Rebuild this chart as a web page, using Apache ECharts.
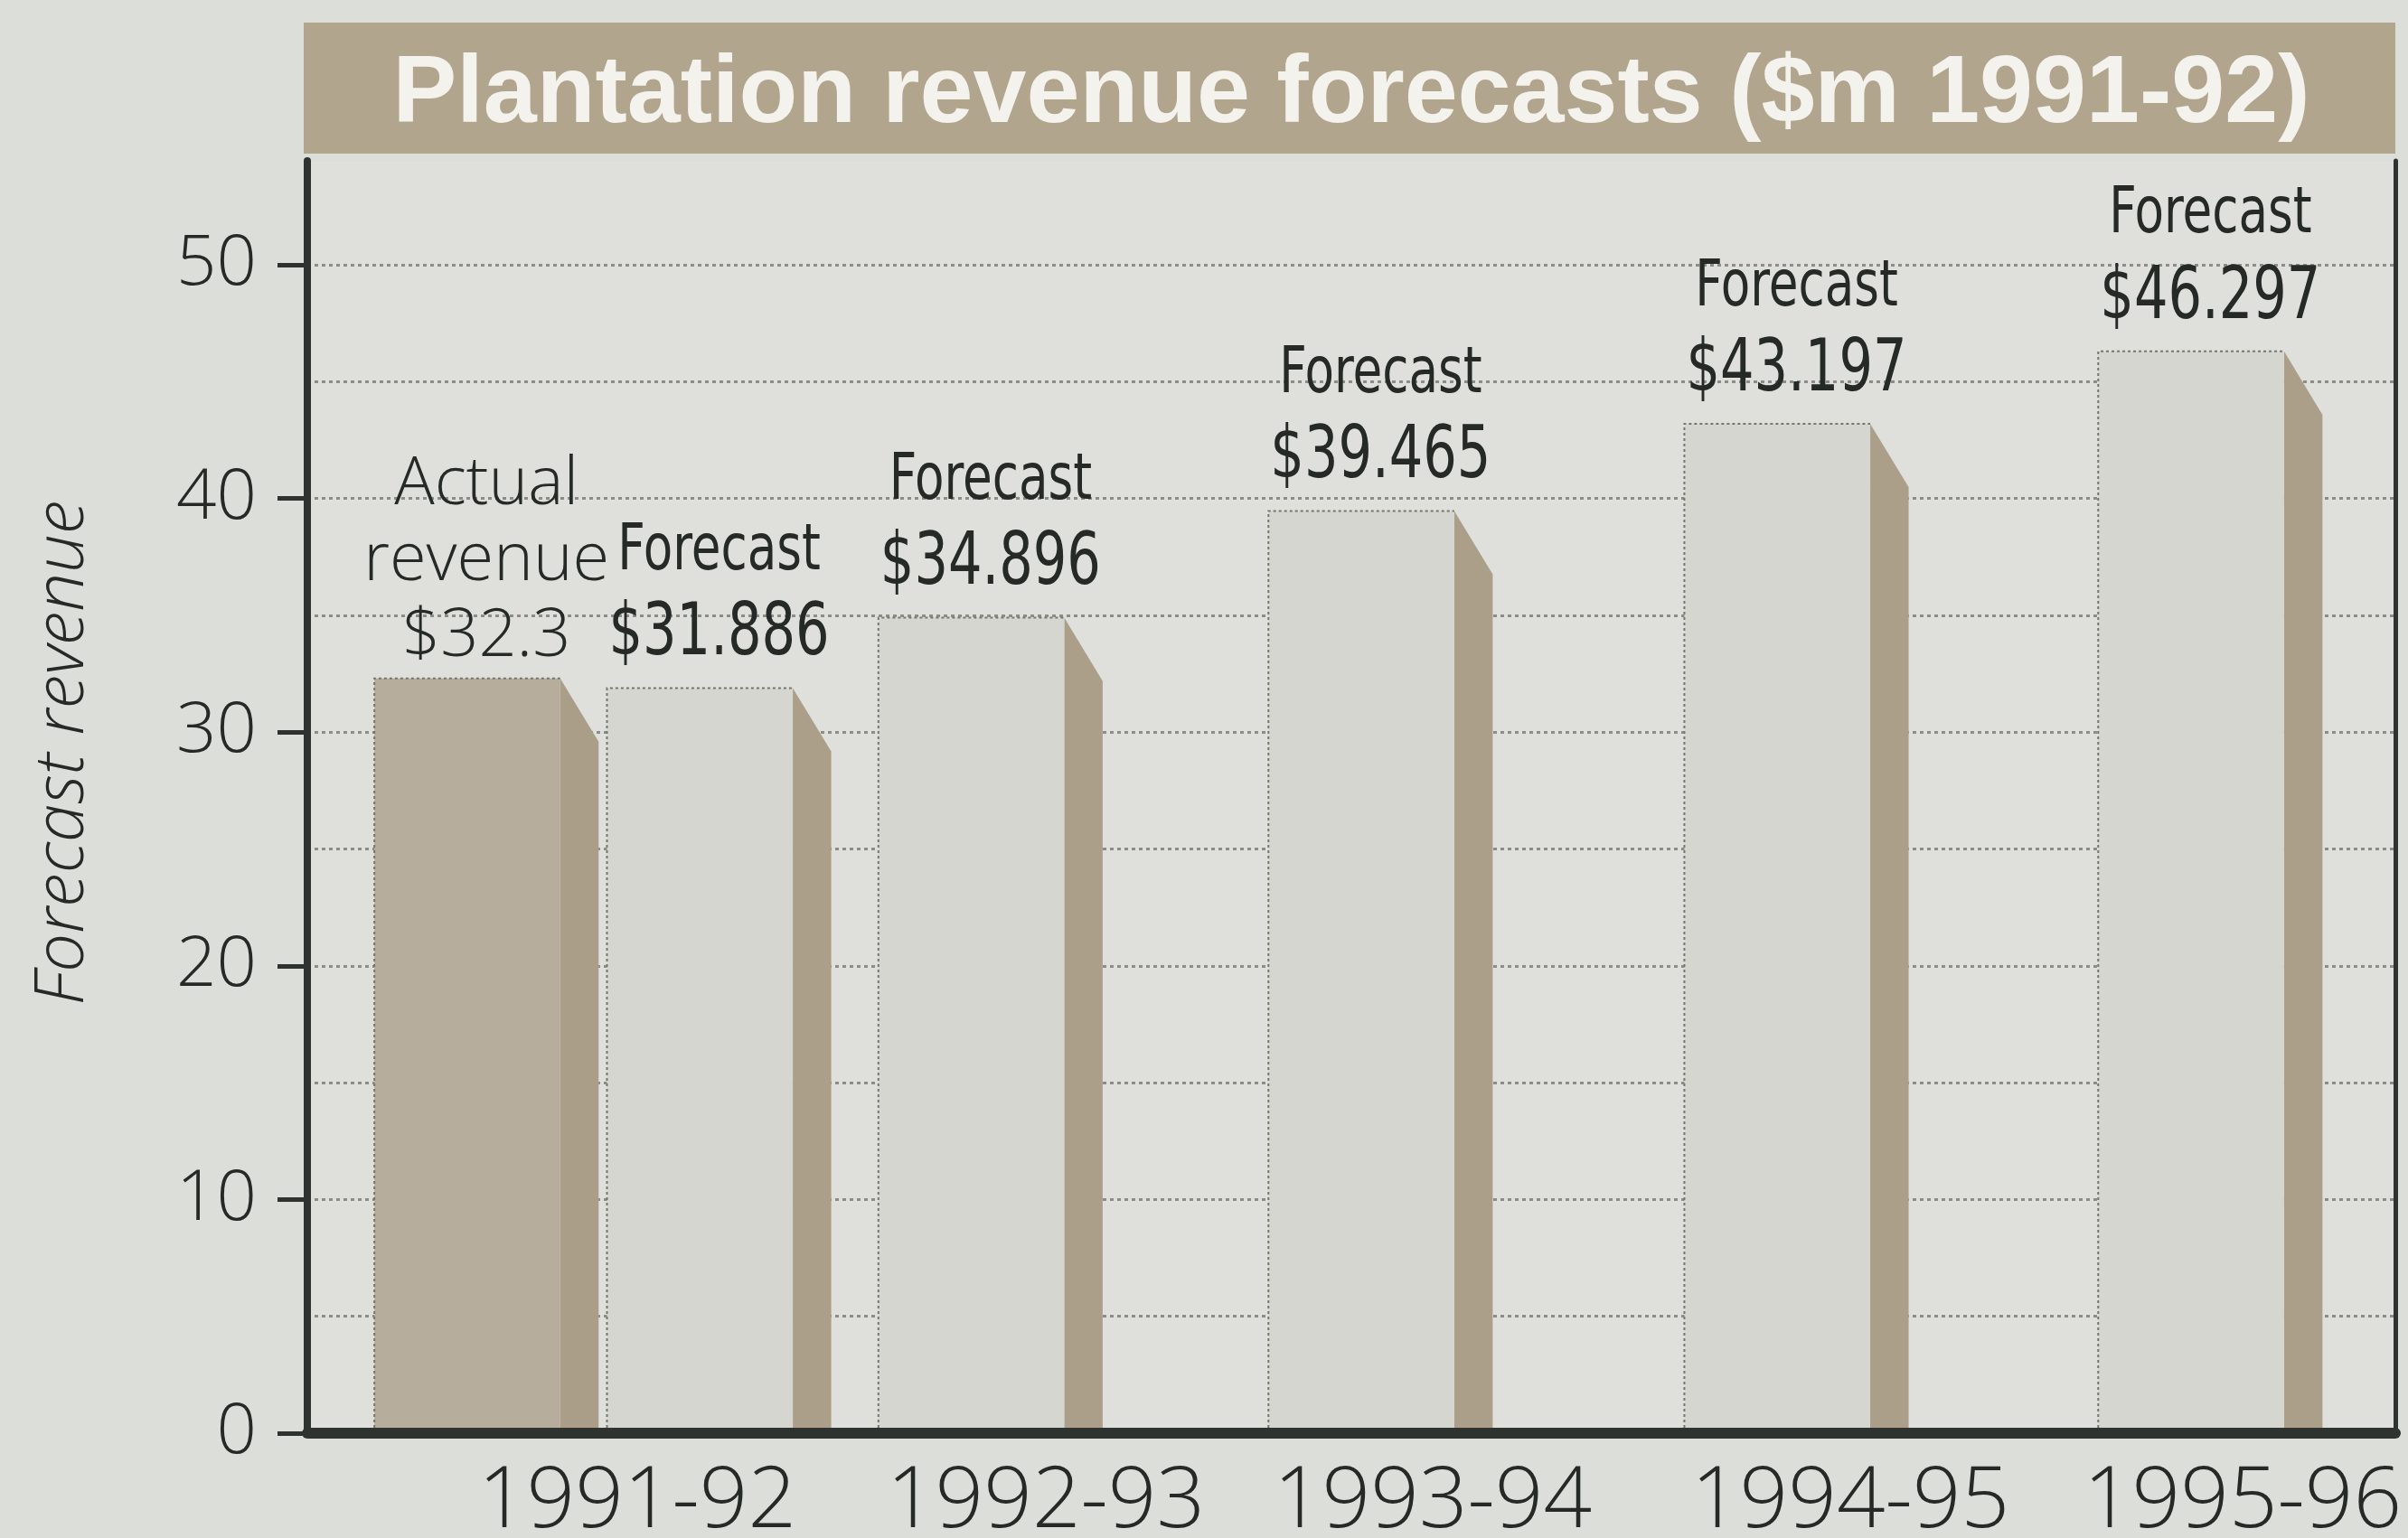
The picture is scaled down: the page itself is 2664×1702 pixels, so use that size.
<!DOCTYPE html>
<html>
<head>
<meta charset="utf-8">
<title>Plantation revenue forecasts</title>
<script src="https://cdn.jsdelivr.net/npm/echarts@6/dist/echarts.min.js"></script>
<style>
  html, body { margin: 0; padding: 0; background: #dcdfd9; }
  #chart { width: 2664px; height: 1702px; }
</style>
</head>
<body>
<div id="chart"></div>
<script>
// ---- data ----
const categories = ['1991-92', '1992-93', '1993-94', '1994-95', '1995-96'];
const actualRevenue = [32.3, null, null, null, null];
const forecastRevenue = [31.886, 34.896, 39.465, 43.197, 46.297];
const yTickValues = [0, 10, 20, 30, 40, 50];
const titleText = 'Plantation revenue forecasts ($m 1991-92)';
const yAxisTitle = 'Forecast revenue';

// ---- layout: horizontal shift of each bar inside its category band (fraction of band) ----
const actualShift = [-0.117, 0, 0, 0, 0];
const forecastShift = [0.44, 0.09, 0.024, 0.02, 0.011];
// per-category label nudges (left / right padding, px)
const xLabelNudge = [[88, 0], [68, 0], [0, 0], [0, 0], [0, 56]];

const ink = '#262a26';
const axisInk = '#2f332f';
const gridDots = '#8c8d87';
const lightFont = '"Open Sans", "Liberation Sans", sans-serif';
const narrowFont = '"Liberation Sans Narrow", "DejaVu Sans Condensed", "Liberation Sans", sans-serif';

const forecastLabelStyle = {
  fill: ink,
  fontFamily: narrowFont,
  fontSize: 80,
  lineHeight: 92,
  rich: {
    f: { fontFamily: narrowFont, fontSize: 72, lineHeight: 92, fill: ink },
    v: { fontFamily: narrowFont, fontSize: 80, lineHeight: 92, fill: ink }
  }
};
const actualLabelStyle = {
  fill: ink,
  fontFamily: lightFont,
  fontWeight: 300,
  fontSize: 74,
  lineHeight: 84
};

// Pseudo-3D column: lit front face plus a shaded right flank with a bevelled top.
function bar3d(shifts, faceColor, sideColor, labelFor, labelStyle, labelGap, labelSquash) {
  return function (params, api) {
    const i = api.value(0);
    const v = api.value(1);
    const band = api.size([1, 0])[0];
    const top = api.coord([i, v]);
    const yBase = api.coord([i, 0])[1];
    const yTop = top[1];
    const w = band * 0.445;
    const sw = band * 0.092;
    const drop = sw * 1.65;
    const cx = top[0] + shifts[i] * band;
    const x0 = cx - w / 2;
    const x1 = cx + w / 2;
    return {
      type: 'group',
      children: [
        {
          type: 'polygon',
          shape: { points: [[x1, yTop], [x1 + sw, yTop + drop], [x1 + sw, yBase], [x1, yBase]] },
          style: { fill: sideColor }
        },
        {
          type: 'rect',
          shape: { x: x0, y: yTop, width: w, height: yBase - yTop },
          style: { fill: faceColor }
        },
        {
          type: 'polyline',
          shape: { points: [[x0, yBase], [x0, yTop], [x1, yTop]] },
          style: { stroke: '#75766f', lineWidth: 2, lineDash: [3, 3], fill: null }
        },
        {
          type: 'text',
          x: cx + sw / 2,
          y: yTop - labelGap,
          scaleX: labelSquash,
          style: Object.assign({ text: labelFor(v), align: 'center', verticalAlign: 'bottom' }, labelStyle)
        }
      ]
    };
  };
}

const toPoints = (arr) => arr.map((v, i) => [i, v]).filter((d) => d[1] != null);

const xLabelText = { color: ink, fontFamily: lightFont, fontWeight: 300, fontSize: 94 };
const xLabelRich = {};
xLabelNudge.forEach((p, i) => {
  xLabelRich['c' + i] = Object.assign({ padding: [0, p[1], 0, p[0]] }, xLabelText);
});

const chart = echarts.init(document.getElementById('chart'), null, { renderer: 'canvas' });

chart.setOption({
  backgroundColor: '#dcdfd9',
  animation: false,
  graphic: [
    {
      type: 'rect',
      shape: { x: 336, y: 25, width: 2314, height: 145 },
      style: { fill: '#b2a58e' },
      z: 1
    },
    {
      type: 'text',
      x: 1495,
      y: 106,
      style: {
        text: titleText,
        align: 'center',
        verticalAlign: 'middle',
        fill: '#f4f2ec',
        fontFamily: '"Liberation Sans", "DejaVu Sans", sans-serif',
        fontWeight: 'bold',
        fontSize: 106
      },
      z: 2
    }
  ],
  grid: [
    {
      left: 340, right: 14, top: 178, bottom: 116,
      outerBoundsMode: 'none', containLabel: false,
      show: true, backgroundColor: '#dfe0db', borderWidth: 0
    },
    {
      left: 340, right: 14, top: 293, bottom: 116,
      outerBoundsMode: 'none', containLabel: false
    }
  ],
  xAxis: [
    {
      gridIndex: 0,
      type: 'category',
      data: categories,
      z: 10,
      axisLine: { onZero: false, lineStyle: { color: axisInk, width: 12 } },
      axisTick: { show: false },
      axisLabel: Object.assign({
        interval: 0,
        hideOverlap: false,
        margin: 30,
        padding: [0, 0, 0, 180],
        formatter: (v, i) => '{c' + i + '|' + v + '}',
        rich: xLabelRich
      }, xLabelText)
    },
    { gridIndex: 1, type: 'category', data: categories, show: false }
  ],
  yAxis: [
    {
      gridIndex: 0,
      type: 'value',
      min: 0,
      max: 1,
      z: 10,
      axisLine: { show: true, lineStyle: { color: axisInk, width: 8 } },
      axisTick: { show: false },
      axisLabel: { show: false },
      splitLine: { show: false },
      name: yAxisTitle,
      nameLocation: 'middle',
      nameGap: 232,
      nameTextStyle: {
        color: ink,
        fontFamily: lightFont,
        fontWeight: 300,
        fontStyle: 'italic',
        fontSize: 76,
        padding: [0, 0, 0, 98]
      }
    },
    {
      gridIndex: 0,
      type: 'value',
      position: 'right',
      min: 0,
      max: 1,
      z: 10,
      axisLine: { show: true, lineStyle: { color: axisInk, width: 5 } },
      axisTick: { show: false },
      axisLabel: { show: false },
      splitLine: { show: false }
    },
    {
      gridIndex: 1,
      type: 'value',
      min: yTickValues[0],
      max: yTickValues[yTickValues.length - 1],
      interval: 10,
      axisLine: { show: false },
      axisTick: { show: true, length: 33, lineStyle: { color: axisInk, width: 5 } },
      axisLabel: {
        margin: 56,
        color: ink,
        fontFamily: lightFont,
        fontWeight: 300,
        fontSize: 78
      },
      splitLine: { show: true, lineStyle: { color: gridDots, width: 3, type: [4, 4] } },
      minorTick: { show: false, splitNumber: 2 },
      minorSplitLine: { show: true, lineStyle: { color: gridDots, width: 3, type: [4, 4] } }
    }
  ],
  series: [
    {
      name: 'Actual revenue',
      type: 'custom',
      xAxisIndex: 1,
      yAxisIndex: 2,
      data: toPoints(actualRevenue),
      renderItem: bar3d(actualShift, '#b6ad9c', '#aa9e89',
        (v) => 'Actual\nrevenue\n$' + v, actualLabelStyle, 4, 1),
      z: 5
    },
    {
      name: 'Forecast',
      type: 'custom',
      xAxisIndex: 1,
      yAxisIndex: 2,
      data: toPoints(forecastRevenue),
      renderItem: bar3d(forecastShift, '#d6d6d1', '#ac9f8a',
        (v) => '{f|Forecast}\n{v|$' + v + '}', forecastLabelStyle, 12, 0.82),
      z: 5
    }
  ]
});
</script>
</body>
</html>
